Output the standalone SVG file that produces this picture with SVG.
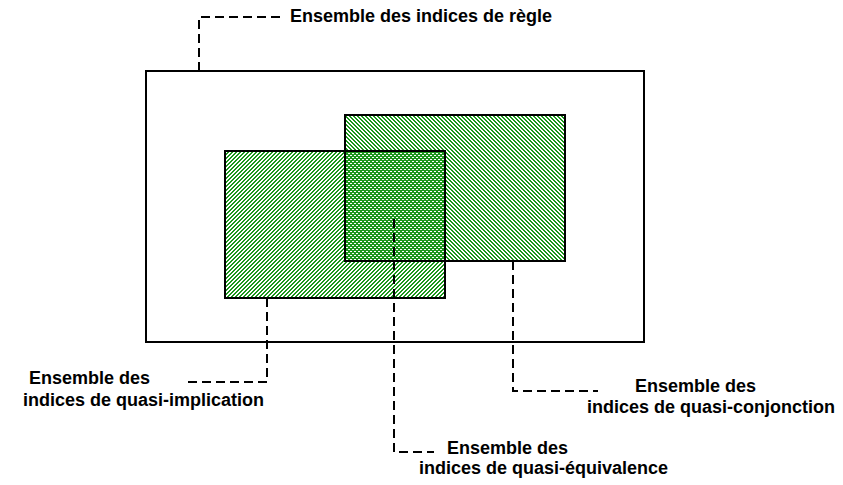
<svg xmlns="http://www.w3.org/2000/svg" width="843" height="485" viewBox="0 0 843 485">
<style>
.box{fill:none;stroke:#000;stroke-width:2}
.lead{fill:none;stroke:#000;stroke-width:2;stroke-dasharray:9,5}
.lbl{font-family:"Liberation Sans",Arial,sans-serif;font-weight:bold;font-size:18px;fill:#000}
</style>
<defs>
<pattern id="fwd" patternUnits="userSpaceOnUse" width="4" height="4">
<path fill="#1c961c" shape-rendering="crispEdges" d="M0,3h1v1h-1z M1,2h1v1h-1z M2,1h1v1h-1z M3,0h1v1h-1z M0,0h1v1h-1z M1,3h1v1h-1z M2,2h1v1h-1z M3,1h1v1h-1z"/>
</pattern>
<pattern id="bwd" patternUnits="userSpaceOnUse" x="1" y="0" width="4" height="4">
<path fill="#1c961c" shape-rendering="crispEdges" d="M0,0h1v1h-1z M1,1h1v1h-1z M2,2h1v1h-1z M3,3h1v1h-1z M1,0h1v1h-1z M2,1h1v1h-1z M3,2h1v1h-1z M0,3h1v1h-1z"/>
</pattern>
</defs>
<rect width="843" height="485" fill="#fff"/>
<g id="regle">
<rect class="box" x="146" y="71" width="498" height="271" fill="#fff"/>
</g>
<g id="conjonction-fill"><rect x="345" y="115" width="220" height="146" fill="url(#bwd)"/></g>
<g id="implication-fill"><rect x="225" y="151" width="220" height="147" fill="url(#fwd)"/></g>
<g id="conjonction"><rect class="box" x="345" y="115" width="220" height="146"/></g>
<g id="implication"><rect class="box" x="225" y="151" width="220" height="147"/></g>
<g id="connectors">
<path class="lead" d="M199,71 L199,17 L285,17"/>
<path class="lead" d="M267,298 L267,382 L183,382"/>
<path class="lead" d="M394,219 L394,452 L434,452"/>
<path class="lead" d="M513,261 L513,391 L598,391"/>
</g>
<g id="lbl-regle"><text class="lbl" x="290" y="22">Ensemble des indices de règle</text></g>
<g id="lbl-implication">
<text class="lbl" x="29" y="384">Ensemble des</text>
<text class="lbl" x="23" y="406">indices de quasi-implication</text>
</g>
<g id="lbl-equivalence">
<text class="lbl" x="447" y="454">Ensemble des</text>
<text class="lbl" x="419" y="474">indices de quasi-équivalence</text>
</g>
<g id="lbl-conjonction">
<text class="lbl" x="635" y="392">Ensemble des</text>
<text class="lbl" x="587" y="413">indices de quasi-conjonction</text>
</g>
</svg>
